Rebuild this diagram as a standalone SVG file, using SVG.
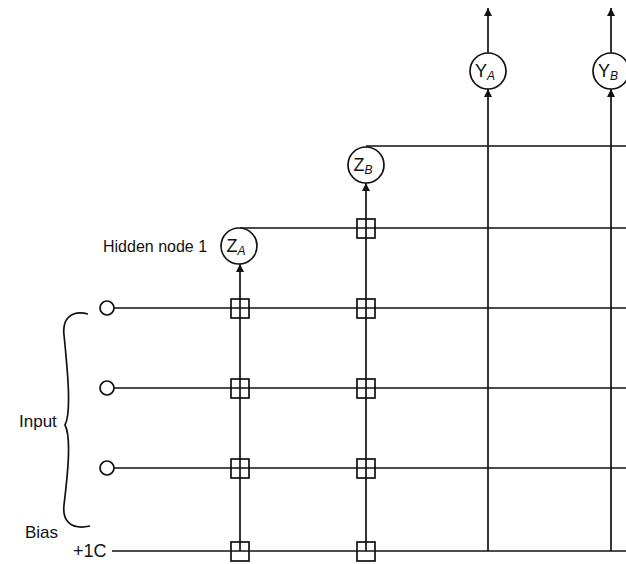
<svg xmlns="http://www.w3.org/2000/svg" width="626" height="564" viewBox="0 0 626 564">
<style>
.ln{stroke:#111;stroke-width:1.7;fill:none}
.nd{stroke:#111;stroke-width:1.7;fill:#fff}
.bx{stroke:#111;stroke-width:1.7;fill:none}
.t{font-family:"Liberation Sans",Arial,sans-serif;font-size:17px;fill:#111}
.nt{font-family:"Liberation Sans",Arial,sans-serif;font-size:18px;fill:#111;text-anchor:middle}
.sub{font-size:12px;font-style:italic}
</style>
<defs>
<marker id="ah" viewBox="0 0 10 10" refX="10" refY="5" markerWidth="8" markerHeight="9" markerUnits="userSpaceOnUse" orient="auto">
<path d="M0,0 L10,5 L0,10 Z" fill="#111"/>
</marker>
</defs>
<g id="connectors">
<line class="ln" x1="114" y1="308" x2="626" y2="308"/>
<line class="ln" x1="114" y1="388" x2="626" y2="388"/>
<line class="ln" x1="114" y1="468" x2="626" y2="468"/>
<line class="ln" x1="112" y1="551" x2="626" y2="551"/>
<line class="ln" x1="240" y1="228" x2="626" y2="228"/>
<line class="ln" x1="366" y1="146" x2="626" y2="146"/>
<line class="ln" x1="240" y1="551" x2="240" y2="264" marker-end="url(#ah)"/>
<line class="ln" x1="366" y1="551" x2="366" y2="183" marker-end="url(#ah)"/>
<line class="ln" x1="488" y1="551" x2="488" y2="89" marker-end="url(#ah)"/>
<line class="ln" x1="611" y1="551" x2="611" y2="89" marker-end="url(#ah)"/>
<line class="ln" x1="488" y1="53" x2="488" y2="8" marker-end="url(#ah)"/>
<line class="ln" x1="611" y1="53" x2="611" y2="8" marker-end="url(#ah)"/>
<rect class="bx" x="231" y="299" width="18" height="19"/>
<rect class="bx" x="231" y="379" width="18" height="19"/>
<rect class="bx" x="231" y="459" width="18" height="19"/>
<rect class="bx" x="231" y="542" width="18" height="19"/>
<rect class="bx" x="357" y="219" width="18" height="19"/>
<rect class="bx" x="357" y="299" width="18" height="19"/>
<rect class="bx" x="357" y="379" width="18" height="19"/>
<rect class="bx" x="357" y="459" width="18" height="19"/>
<rect class="bx" x="357" y="542" width="18" height="19"/>
</g>
<g id="in1"><circle class="nd" cx="107" cy="308" r="7"/></g>
<g id="in2"><circle class="nd" cx="107" cy="388" r="7"/></g>
<g id="in3"><circle class="nd" cx="107" cy="468" r="7"/></g>
<g id="bias"><text class="t" x="73" y="557" style="font-size:18px">+1C</text><text class="t" x="25" y="538">Bias</text></g>
<g id="brace">
<path class="ln" d="M88,314 C72,310 62,318 64,335 C67,365 72,412 65,425 C72,438 67,480 64,505 C62,522 72,530 90,526"/>
<text class="t" x="19" y="427">Input</text>
</g>
<g id="ZA"><circle class="nd" cx="239" cy="246" r="18"/><text class="nt" x="236" y="252">Z<tspan class="sub" dy="3">A</tspan></text></g>
<text class="t" x="103" y="252" style="font-size:16px">Hidden node 1</text>
<g id="ZB"><circle class="nd" cx="366" cy="165" r="18"/><text class="nt" x="363" y="171">Z<tspan class="sub" dy="3">B</tspan></text></g>
<g id="YA"><circle class="nd" cx="488" cy="71" r="18"/><text class="nt" x="485" y="77">Y<tspan class="sub" dy="3">A</tspan></text></g>
<g id="YB"><circle class="nd" cx="611" cy="71" r="18"/><text class="nt" x="608" y="77">Y<tspan class="sub" dy="3">B</tspan></text></g>
</svg>
